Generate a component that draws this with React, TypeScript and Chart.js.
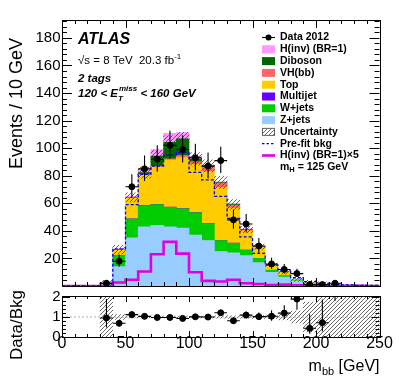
import React, { useEffect, useRef } from 'react';
import { Chart, registerables } from 'chart.js';
Chart.register(...registerables);

// ---------------- data ----------------
const binEdges = [0, 10, 20, 30, 40, 50, 60, 70, 80, 90, 100, 110, 120, 130, 140, 150, 160, 170, 180, 190, 200, 210, 220, 230, 240, 250];
const binCenters = [5, 15, 25, 35, 45, 55, 65, 75, 85, 95, 105, 115, 125, 135, 145, 155, 165, 175, 185, 195, 205, 215, 225, 235, 245];

const zJets = [0, 0, 0, 1.4, 14, 35, 43, 44, 43, 42, 37, 33, 25, 24, 22, 17, 10, 6.5, 3.5, 1.7, 1.0, 0.4, 0.35, 0.25, 0.2];
const wJets = [0, 0, 0, 0.4, 8, 13.5, 15, 15, 14, 14, 16, 12, 8, 7, 4, 3, 1.5, 1.0, 0.5, 0.3, 0.2, 0.05, 0.05, 0.03, 0.02];
const multijet = [0, 0, 0, 0, 0.1, 0.3, 0.3, 0.3, 0.3, 0.2, 0.2, 0.2, 0.1, 0.1, 0.1, 0, 0, 0, 0, 0, 0, 0, 0, 0, 0];
const topQuark = [0, 0, 0, 0.3, 4, 15, 22.5, 27, 34, 37, 35, 38, 38.5, 25.5, 14, 8, 3.7, 2.4, 0.7, 0.3, 0.2, 0.1, 0.1, 0.05, 0.05];
const vhbb = [0, 0, 0, 0, 0, 0.1, 0.3, 0.5, 1, 1.5, 2, 3, 3, 2, 0.7, 0.3, 0.1, 0.05, 0, 0, 0, 0, 0, 0, 0];
const diboson = [0, 0, 0, 0, 0.2, 0.4, 1.2, 7.5, 12, 12, 2, 1, 0.5, 0.5, 0.3, 0.2, 0.1, 0.1, 0.05, 0, 0, 0, 0, 0, 0];
const hinv = [0, 0, 0, 0, 0.5, 0.9, 2.1, 4.6, 6.4, 4.7, 2, 0.75, 0.65, 0.9, 0.4, 0.3, 0.15, 0.2, 0.1, 0.05, 0.05, 0.03, 0.02, 0.02, 0.01];
const prefitBkg = [0, 0, 0, 1.8, 27, 59, 81, 87, 95, 97, 82.5, 77, 65, 49, 35.6, 23.6, 15.2, 11, 6, 3.2, 2, 1, 0.8, 0.5, 0.4];
const dataCounts = [0, 0, 0, 2, 18, 72, 85, 92, 102, 99, 93, 87, 91, 48, 45, 29, 16, 12, 9, 1, 1, 2, 0, 0, 0];
const uncRel = [0, 0, 0, 1.0, 0.12, 0.05, 0.05, 0.045, 0.045, 0.045, 0.05, 0.05, 0.06, 0.06, 0.06, 0.07, 0.08, 0.15, 0.3, 0.75, 1.2, 1.5, 1.5, 1.5, 1.5];

const yTicksMain = [20, 40, 60, 80, 100, 120, 140, 160, 180];
const xTicks = [0, 50, 100, 150, 200, 250];
const ratioTicks = [0, 1, 2];

const Y_MAX = 193;
const R_MAX = 2.05;
const FONT = '"Liberation Sans", Arial, Helvetica, sans-serif';

const COLORS = {
  hinv: '#ff99ff',
  diboson: '#006600',
  vh: '#ff6666',
  top: '#ffcc00',
  multijet: '#6600ff',
  wjets: '#00cc00',
  zjets: '#99ccff',
  prefit: '#0000ff',
  hinv5: '#e000e0',
};

const errUp = (n: number) => Math.sqrt(n + 0.25) + 0.5;
const errDn = (n: number) => Math.sqrt(n + 0.25) - 0.5;

function makeHatch(ctx: CanvasRenderingContext2D, color: string) {
  const c = document.createElement('canvas');
  c.width = 4;
  c.height = 4;
  const g = c.getContext('2d')!;
  g.strokeStyle = color;
  g.lineWidth = 0.8;
  g.beginPath();
  g.moveTo(0, 4); g.lineTo(4, 0);
  g.moveTo(-1, 1); g.lineTo(1, -1);
  g.moveTo(3, 5); g.lineTo(5, 3);
  g.stroke();
  return ctx.createPattern(c, 'repeat')!;
}

function stepPoints(values: number[]) {
  const pts = binEdges.slice(0, values.length).map((e, i) => ({ x: e, y: values[i] }));
  pts.push({ x: binEdges[values.length], y: values[values.length - 1] });
  return pts;
}

type Seg = { t: string; size: number; dy?: number; bold?: boolean; italic?: boolean };
function font(s: Seg) {
  return `${s.italic ? 'italic ' : ''}${s.bold ? 'bold ' : ''}${s.size}px ${FONT}`;
}
function drawSegs(ctx: CanvasRenderingContext2D, segs: Seg[], x: number, y: number) {
  let cx = x;
  for (const s of segs) {
    ctx.font = font(s);
    ctx.fillText(s.t, cx, y + (s.dy || 0));
    cx += ctx.measureText(s.t).width;
  }
  return cx;
}

function drawTicks(ctx: CanvasRenderingContext2D, chart: any, xs: any, ys: any,
  xMajor: number[], xMinorStep: number, xMaxV: number, xLenMaj: number, xLenMin: number,
  yMajor: number[], yMinorStep: number, yMaxV: number, yLenMaj: number, yLenMin: number) {
  const a = chart.chartArea;
  ctx.save();
  ctx.strokeStyle = '#000';
  ctx.lineWidth = 1;
  ctx.beginPath();
  for (let v = 0; v <= xMaxV + 1e-6; v += xMinorStep) {
    const px = Math.round(xs.getPixelForValue(v)) + 0.5;
    const len = xMajor.some((m) => Math.abs(m - v) < 1e-6) ? xLenMaj : xLenMin;
    ctx.moveTo(px, a.bottom); ctx.lineTo(px, a.bottom - len);
    ctx.moveTo(px, a.top); ctx.lineTo(px, a.top + len);
  }
  for (let v = 0; v <= yMaxV + 1e-6; v += yMinorStep) {
    const py = Math.round(ys.getPixelForValue(v)) + 0.5;
    const len = yMajor.some((m) => Math.abs(m - v) < 1e-6) ? yLenMaj : yLenMin;
    ctx.moveTo(a.left, py); ctx.lineTo(a.left + len, py);
    ctx.moveTo(a.right, py); ctx.lineTo(a.right - len, py);
  }
  ctx.stroke();
  ctx.strokeRect(Math.round(a.left) + 0.5, Math.round(a.top) + 0.5, Math.round(a.right - a.left), Math.round(a.bottom - a.top));
  ctx.restore();
}

function drawErrorBars(ctx: CanvasRenderingContext2D, chart: any, xs: any, ys: any, vals: (number | null)[], ups: number[], dns: number[]) {
  const a = chart.chartArea;
  ctx.save();
  ctx.beginPath();
  ctx.rect(a.left, a.top, a.right - a.left, a.bottom - a.top);
  ctx.clip();
  ctx.strokeStyle = '#000';
  ctx.lineWidth = 1.1;
  ctx.beginPath();
  vals.forEach((v, i) => {
    if (v === null) return;
    const px = xs.getPixelForValue(binCenters[i]);
    const py = ys.getPixelForValue(v);
    ctx.moveTo(px, ys.getPixelForValue(v + ups[i]));
    ctx.lineTo(px, ys.getPixelForValue(v - dns[i]));
    ctx.moveTo(xs.getPixelForValue(binEdges[i]), py);
    ctx.lineTo(xs.getPixelForValue(binEdges[i + 1]), py);
  });
  ctx.stroke();
  ctx.restore();
}

export default function App() {
  const topRef = useRef<HTMLCanvasElement>(null);
  const botRef = useRef<HTMLCanvasElement>(null);

  useEffect(() => {
    document.body.style.margin = '0';
    const c1 = topRef.current!;
    const c2 = botRef.current!;
    const hatch1 = makeHatch(c1.getContext('2d')!, '#444');
    const hatch2 = makeHatch(c2.getContext('2d')!, '#444');
    const hatchLegend = makeHatch(c1.getContext('2d')!, '#444');

    const binLabels = binCenters.map((_, i) => `${binEdges[i]}-${binEdges[i + 1]}`);
    const bkg = binCenters.map((_, i) => zJets[i] + wJets[i] + multijet[i] + topQuark[i] + vhbb[i] + diboson[i]);
    const nz = (arr: number[]) => arr.map((v) => (v > 0 ? v : null));

    const dataPts = binCenters.map((x, i) => ({ x, y: dataCounts[i] })).filter((p) => p.y > 0);
    const ratioVals = binCenters.map((_, i) => (dataCounts[i] > 0 && bkg[i] > 0 ? dataCounts[i] / bkg[i] : null));
    const ratioPts = binCenters.map((x, i) => ({ x, y: ratioVals[i] })).filter((p) => p.y !== null);

    const barCommon = { xAxisID: 'x', yAxisID: 'y', barPercentage: 1, categoryPercentage: 1, borderWidth: 0, order: 0, grouped: false };

    const mainDecor = {
      id: 'mainDecor',
      afterDatasetsDraw(chart: any) {
        const ctx = chart.ctx as CanvasRenderingContext2D;
        const xs = chart.scales.xl;
        const ys = chart.scales.y2;
        const vals = dataCounts.map((n) => (n > 0 ? n : null));
        drawErrorBars(ctx, chart, xs, ys, vals, dataCounts.map(errUp), dataCounts.map(errDn));
        drawTicks(ctx, chart, xs, ys, xTicks, 10, 250, 8, 4, [0, ...yTicksMain], 4, Y_MAX, 10, 5);
      },
      afterDraw(chart: any) {
        const ctx = chart.ctx as CanvasRenderingContext2D;
        const ys = chart.scales.y2;
        ctx.save();
        ctx.fillStyle = '#000';
        // y tick labels
        ctx.font = `15px ${FONT}`;
        ctx.textAlign = 'right';
        ctx.textBaseline = 'middle';
        yTicksMain.forEach((v) => ctx.fillText(String(v), 60.5, ys.getPixelForValue(v)));
        // y title
        ctx.save();
        ctx.translate(17, 38);
        ctx.rotate(-Math.PI / 2);
        ctx.textAlign = 'right';
        ctx.textBaseline = 'middle';
        ctx.font = `18px ${FONT}`;
        ctx.fillText('Events / 10 GeV', 0, 0);
        ctx.restore();
        // ATLAS labels
        ctx.textAlign = 'left';
        ctx.textBaseline = 'alphabetic';
        ctx.font = `italic bold 16px ${FONT}`;
        ctx.fillText('ATLAS', 78, 43.5);
        drawSegs(ctx, [
          { t: '\u221As = 8 TeV  20.3 fb', size: 11.5 },
          { t: '-1', size: 8, dy: -5 },
        ], 78, 64);
        ctx.font = `italic bold 11.5px ${FONT}`;
        ctx.fillText('2 tags', 78, 81.5);
        let cx = drawSegs(ctx, [{ t: '120 < E', size: 11.5, bold: true, italic: true }], 78, 97);
        ctx.font = `italic bold 8px ${FONT}`;
        ctx.fillText('miss', cx + 1, 91);
        const wMiss = ctx.measureText('miss').width;
        ctx.fillText('T', cx, 100.5);
        drawSegs(ctx, [{ t: ' < 160 GeV', size: 11.5, bold: true, italic: true }], cx + 1 + wMiss, 97);

        // legend
        const lx0 = 262, lx1 = 275, tx = 280;
        const y0 = 37.5, dy = 11.8;
        const entries: { label: Seg[]; kind: string; color?: string }[] = [
          { label: [{ t: 'Data 2012', size: 10.5, bold: true }], kind: 'data' },
          { label: [{ t: 'H(inv) (BR=1)', size: 10.5, bold: true }], kind: 'box', color: COLORS.hinv },
          { label: [{ t: 'Diboson', size: 10.5, bold: true }], kind: 'box', color: COLORS.diboson },
          { label: [{ t: 'VH(bb)', size: 10.5, bold: true }], kind: 'box', color: COLORS.vh },
          { label: [{ t: 'Top', size: 10.5, bold: true }], kind: 'box', color: COLORS.top },
          { label: [{ t: 'Multijet', size: 10.5, bold: true }], kind: 'box', color: COLORS.multijet },
          { label: [{ t: 'W+jets', size: 10.5, bold: true }], kind: 'box', color: COLORS.wjets },
          { label: [{ t: 'Z+jets', size: 10.5, bold: true }], kind: 'box', color: COLORS.zjets },
          { label: [{ t: 'Uncertainty', size: 10.5, bold: true }], kind: 'hatch' },
          { label: [{ t: 'Pre-fit bkg', size: 10.5, bold: true }], kind: 'dash' },
          { label: [{ t: 'H(inv) (BR=1)\u00d75', size: 10.5, bold: true }], kind: 'line' },
          { label: [{ t: 'm', size: 10.5, bold: true }, { t: 'H', size: 7.5, bold: true, dy: 3 }, { t: ' = 125 GeV', size: 10.5, bold: true }], kind: 'none' },
        ];
        ctx.textBaseline = 'middle';
        entries.forEach((e, i) => {
          const y = y0 + i * dy;
          if (e.kind === 'data') {
            ctx.strokeStyle = '#000'; ctx.lineWidth = 1.1;
            ctx.beginPath(); ctx.moveTo(lx0, y); ctx.lineTo(lx1, y); ctx.stroke();
            ctx.beginPath(); ctx.arc((lx0 + lx1) / 2, y, 3, 0, Math.PI * 2); ctx.fill();
          } else if (e.kind === 'box') {
            ctx.fillStyle = e.color!;
            ctx.fillRect(lx0, y - 4, lx1 - lx0, 8);
            ctx.fillStyle = '#000';
          } else if (e.kind === 'hatch') {
            ctx.fillStyle = hatchLegend;
            ctx.fillRect(lx0, y - 4, lx1 - lx0, 8);
            ctx.strokeStyle = '#666'; ctx.lineWidth = 1;
            ctx.strokeRect(lx0 + 0.5, y - 3.5, lx1 - lx0 - 1, 7);
            ctx.fillStyle = '#000';
          } else if (e.kind === 'dash') {
            ctx.strokeStyle = COLORS.prefit; ctx.lineWidth = 1.2;
            ctx.setLineDash([2.5, 2]);
            ctx.beginPath(); ctx.moveTo(lx0, y); ctx.lineTo(lx1, y); ctx.stroke();
            ctx.setLineDash([]);
          } else if (e.kind === 'line') {
            ctx.strokeStyle = COLORS.hinv5; ctx.lineWidth = 2.6;
            ctx.beginPath(); ctx.moveTo(lx0, y); ctx.lineTo(lx1, y); ctx.stroke();
          }
          ctx.fillStyle = '#000';
          drawSegs(ctx, e.label, tx, y);
        });
        ctx.restore();
      },
    };

    const main = new Chart(c1, {
      type: 'bar',
      data: {
        labels: binLabels,
        datasets: [
          { type: 'scatter', label: 'Data 2012', data: dataPts, xAxisID: 'xl', yAxisID: 'y2', backgroundColor: '#000', borderColor: '#000', pointRadius: 3, order: -3 } as any,
          { ...barCommon, label: 'Z+jets', data: nz(zJets), backgroundColor: COLORS.zjets },
          { ...barCommon, label: 'W+jets', data: nz(wJets), backgroundColor: COLORS.wjets },
          { ...barCommon, label: 'Multijet', data: nz(multijet), backgroundColor: COLORS.multijet },
          { ...barCommon, label: 'Top', data: nz(topQuark), backgroundColor: COLORS.top },
          { ...barCommon, label: 'VH(bb)', data: nz(vhbb), backgroundColor: COLORS.vh },
          { ...barCommon, label: 'Diboson', data: nz(diboson), backgroundColor: COLORS.diboson },
          { ...barCommon, label: 'H(inv) (BR=1)', data: nz(hinv), backgroundColor: COLORS.hinv },
          {
            type: 'bar', label: 'Uncertainty', xAxisID: 'x', yAxisID: 'y2', barPercentage: 1, categoryPercentage: 1, borderWidth: 0, order: -1, grouped: false,
            data: bkg.map((b, i) => (b > 0 ? [Math.max(0, b * (1 - uncRel[i])), b * (1 + uncRel[i])] : null)),
            backgroundColor: hatch1,
          } as any,
          {
            type: 'line', label: 'Pre-fit bkg', data: stepPoints(prefitBkg), xAxisID: 'xl', yAxisID: 'y2',
            borderColor: COLORS.prefit, borderWidth: 1.3, borderDash: [3, 2], stepped: 'before', pointRadius: 0, fill: false, order: -2,
          } as any,
          {
            type: 'line', label: 'H(inv) (BR=1)x5', data: stepPoints(hinv.map((v) => v * 5)), xAxisID: 'xl', yAxisID: 'y2',
            borderColor: COLORS.hinv5, borderWidth: 2.6, stepped: 'before', pointRadius: 0, fill: false, order: -2,
          } as any,
        ],
      },
      options: {
        animation: false,
        responsive: false,
        devicePixelRatio: 1,
        events: [],
        layout: { padding: { left: 62, right: 19.5, top: 20, bottom: 3 } },
        plugins: { legend: { display: false }, tooltip: { enabled: false } },
        scales: {
          x: { type: 'category', display: false, stacked: true, offset: true },
          xl: { type: 'linear', display: false, min: 0, max: 250, offset: false },
          y: { type: 'linear', display: false, stacked: true, min: 0, max: Y_MAX },
          y2: { type: 'linear', display: false, stacked: false, min: 0, max: Y_MAX },
        },
      } as any,
      plugins: [mainDecor],
    });

    const ratioDecor = {
      id: 'ratioDecor',
      afterDatasetsDraw(chart: any) {
        const ctx = chart.ctx as CanvasRenderingContext2D;
        const xs = chart.scales.xl;
        const ys = chart.scales.y;
        const ups = binCenters.map((_, i) => (bkg[i] > 0 ? errUp(dataCounts[i]) / bkg[i] : 0));
        const dns = binCenters.map((_, i) => (bkg[i] > 0 ? errDn(dataCounts[i]) / bkg[i] : 0));
        drawErrorBars(ctx, chart, xs, ys, ratioVals, ups, dns);
        drawTicks(ctx, chart, xs, ys, xTicks, 10, 250, 6, 3, ratioTicks, 0.2, 2.0, 8, 4);
      },
      afterDraw(chart: any) {
        const ctx = chart.ctx as CanvasRenderingContext2D;
        const xs = chart.scales.xl;
        const ys = chart.scales.y;
        ctx.save();
        ctx.fillStyle = '#000';
        ctx.font = `15px ${FONT}`;
        ctx.textAlign = 'right';
        ctx.textBaseline = 'middle';
        ratioTicks.forEach((v) => ctx.fillText(String(v), 60.5, ys.getPixelForValue(v)));
        ctx.font = `16px ${FONT}`;
        ctx.textAlign = 'center';
        xTicks.forEach((v) => ctx.fillText(String(v), xs.getPixelForValue(v), 52.5));
        // y title
        ctx.save();
        ctx.translate(17, 34);
        ctx.rotate(-Math.PI / 2);
        ctx.textAlign = 'center';
        ctx.textBaseline = 'middle';
        ctx.font = `17px ${FONT}`;
        ctx.fillText('Data/Bkg', 0, 0);
        ctx.restore();
        // x title, right aligned
        ctx.textAlign = 'left';
        ctx.textBaseline = 'alphabetic';
        ctx.font = `16px ${FONT}`;
        const w1 = ctx.measureText('m').width;
        const w3 = ctx.measureText(' [GeV]').width;
        ctx.font = `11px ${FONT}`;
        const w2 = ctx.measureText('bb').width;
        const right = chart.chartArea.right;
        const xStart = right - (w1 + w2 + w3);
        drawSegs(ctx, [
          { t: 'm', size: 16 },
          { t: 'bb', size: 11, dy: 4 },
          { t: ' [GeV]', size: 16 },
        ], xStart, 80);
        ctx.restore();
      },
    };

    const ratio = new Chart(c2, {
      type: 'bar',
      data: {
        labels: binLabels,
        datasets: [
          { type: 'scatter', label: 'Data/Bkg', data: ratioPts, xAxisID: 'xl', yAxisID: 'y', backgroundColor: '#000', borderColor: '#000', pointRadius: 3, order: -3 } as any,
          {
            type: 'line', label: 'one', data: [{ x: 0, y: 1 }, { x: 250, y: 1 }], xAxisID: 'xl', yAxisID: 'y',
            borderColor: '#b0b0b0', borderWidth: 1, borderDash: [2, 2], pointRadius: 0, fill: false, order: -1,
          } as any,
          {
            type: 'bar', label: 'Uncertainty', xAxisID: 'x', yAxisID: 'y', barPercentage: 1, categoryPercentage: 1, borderWidth: 0, order: 0, grouped: false,
            data: bkg.map((b, i) => (b > 0 ? [Math.max(0, 1 - uncRel[i]), Math.min(R_MAX, 1 + uncRel[i])] : null)),
            backgroundColor: hatch2,
          } as any,
        ],
      },
      options: {
        animation: false,
        responsive: false,
        devicePixelRatio: 1,
        events: [],
        layout: { padding: { left: 62, right: 19.5, top: 2, bottom: 46 } },
        plugins: { legend: { display: false }, tooltip: { enabled: false } },
        scales: {
          x: { type: 'category', display: false, stacked: true, offset: true },
          xl: { type: 'linear', display: false, min: 0, max: 250, offset: false },
          y: { type: 'linear', display: false, stacked: false, min: 0, max: R_MAX },
        },
      } as any,
      plugins: [ratioDecor],
    });

    return () => {
      main.destroy();
      ratio.destroy();
    };
  }, []);

  return (
    <div style={{ position: 'absolute', left: 0, top: 0, width: 399, height: 383, background: '#fff' }}>
      <canvas ref={topRef} width={399} height={291} style={{ position: 'absolute', left: 0, top: 0, width: 399, height: 291 }} />
      <canvas ref={botRef} width={399} height={92} style={{ position: 'absolute', left: 0, top: 291, width: 399, height: 92 }} />
    </div>
  );
}
